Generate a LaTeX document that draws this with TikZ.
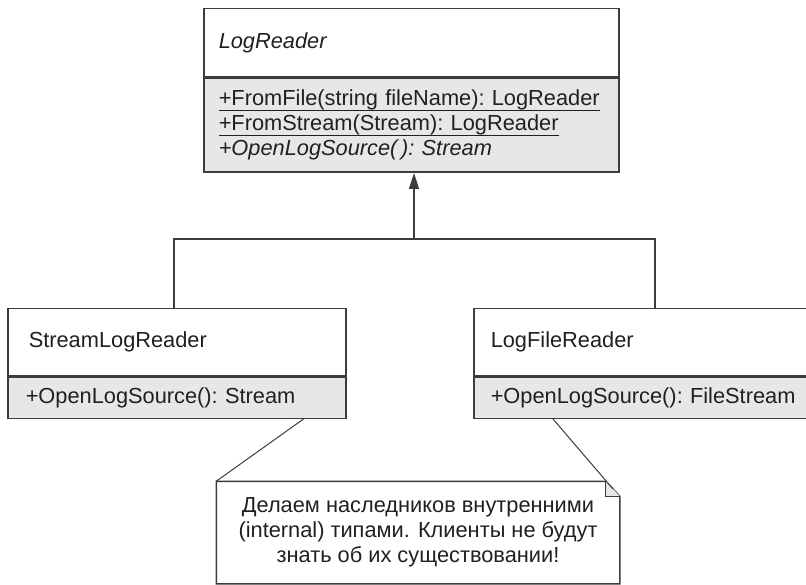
\documentclass[tikz,border=0pt]{standalone}
\usepackage{fontspec}
\setmainfont{Liberation Sans}
\usetikzlibrary{arrows.meta}
\definecolor{opsgray}{RGB}{230,231,232}
\definecolor{linegray}{RGB}{60,60,60}
\definecolor{textdark}{RGB}{35,31,32}
\newcommand{\staticop}[1]{\leavevmode\sbox0{#1}\rlap{\rule[-5pt]{\wd0}{1.3pt}}\usebox0}

\begin{document}
\begin{tikzpicture}[x=1pt,y=-1pt,line width=1.5pt,font=\fontsize{21.8}{25}\selectfont,
classhead/.style={draw=linegray, fill=white, text=textdark, anchor=north west, align=left, inner ysep=0pt},
classops/.style={draw=linegray, fill=opsgray, text=textdark, anchor=north west, align=left, inner ysep=0pt},
notebox/.style={text=textdark, align=center, minimum width=402pt, minimum height=101pt, inner sep=0pt},
pin/.style={draw=linegray, line width=1pt}]
\useasboundingbox (0,0) rectangle (806,585);
\clip (0,0) rectangle (806,585);
\node[classhead, inner xsep=15pt, text width=385pt, minimum height=68pt] (lrhead) at (203,8) {\itshape LogReader};
\node[classops, inner xsep=15pt, text width=385pt, minimum height=94pt] (lrops) at (lrhead.south west) {\staticop{+FromFile(string~fileName):~LogReader}\\\staticop{+FromStream(Stream):~LogReader}\\\itshape +OpenLogSource(\,):~Stream};
\node[classhead, inner xsep=21pt, text width=296pt, minimum height=67pt] (slrhead) at (7,308) {StreamLogReader};
\node[classops, inner xsep=18pt, text width=302pt, minimum height=41pt] (slrops) at (slrhead.south west) {+OpenLogSource():~Stream};
\node[classhead, inner xsep=17pt, text width=328pt, minimum height=67pt] (lfrhead) at (473,308) {LogFileReader};
\node[classops, inner xsep=17pt, text width=328pt, minimum height=41pt] (lfrops) at (lfrhead.south west) {+OpenLogSource():~FileStream};
\node[notebox] (note) at (418,532.5) {Делаем наследников внутренними\\(internal) типами. Клиенты не будут\\знать об их существовании!};
\coordinate (fork) at (414,239);
\draw[linegray] ([xshift=-3pt]slrhead.north) |- (fork) -| (lfrhead.north);
\draw[linegray, -{Triangle[length=16pt,width=10pt]}] (fork) -- (fork |- lrops.south);
\draw[linegray] (note.north west) -- ([xshift=-14pt]note.north east) -- ([yshift=-15pt]note.north east) -- (note.south east) -- (note.south west) -- cycle;
\draw[linegray, fill=opsgray, line width=1pt] ([xshift=-14pt]note.north east) -- ([xshift=-14pt,yshift=-15pt]note.north east) -- ([yshift=-15pt]note.north east);
\draw[pin] (note.north west) -- ([xshift=-43pt]slrops.south east);
\draw[pin] ([xshift=-7pt,yshift=-7.5pt]note.north east) -- ([xshift=80pt]lfrops.south west);
\end{tikzpicture}
\end{document}
